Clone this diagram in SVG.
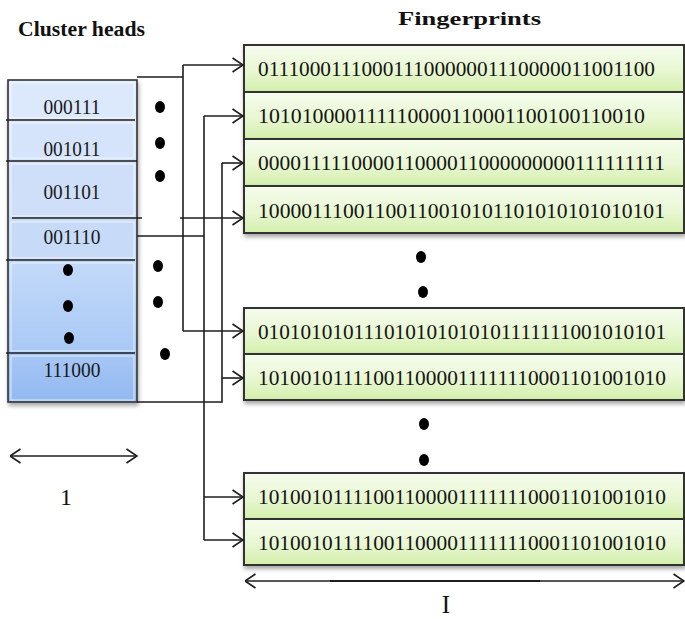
<svg xmlns="http://www.w3.org/2000/svg" width="685" height="619" viewBox="0 0 685 619">
  <style>
    .hdr { font-family: "Liberation Serif", "Times New Roman", serif; font-weight: bold; fill: #111; }
    .bits { font-family: "Liberation Serif", "Times New Roman", serif; font-size: 21px; fill: #151515; }
    .cell { font-family: "Liberation Serif", "Times New Roman", serif; font-size: 20px; fill: #1a1a1a; text-anchor: middle; }
    .lbl { font-family: "Liberation Serif", "Times New Roman", serif; fill: #111; text-anchor: middle; }
    .fp { fill: url(#greenFill); stroke: #333; stroke-width: 2; }
    .ch { stroke: #fff; stroke-opacity: 0.7; stroke-width: 1; }
    .wire { fill: none; stroke: #1e1e1e; stroke-width: 1.6; }
    .arrow { fill: none; stroke: #1e1e1e; stroke-width: 1.6; marker-end: url(#chev); }
    .dim { fill: none; stroke: #1e1e1e; stroke-width: 1.6; marker-start: url(#chev); marker-end: url(#chev); }
    .dot { fill: #000; }
  </style>
  <defs>
    <linearGradient id="greenFill" x1="0" y1="0" x2="0" y2="1">
      <stop offset="0" stop-color="#f6fcee"/>
      <stop offset="0.55" stop-color="#e8f7d2"/>
      <stop offset="1" stop-color="#d3efab"/>
    </linearGradient>
    <linearGradient id="blueCol" x1="0" y1="0" x2="0" y2="1">
      <stop offset="0" stop-color="#e1ecfc"/>
      <stop offset="0.5" stop-color="#c6dbf9"/>
      <stop offset="1" stop-color="#95bbf2"/>
    </linearGradient>
    <linearGradient id="blueLow" x1="0" y1="0" x2="0" y2="1">
      <stop offset="0" stop-color="#c3d9f9"/>
      <stop offset="1" stop-color="#a9c9f5"/>
    </linearGradient>
    <linearGradient id="blueEnd" x1="0" y1="0" x2="0" y2="1">
      <stop offset="0" stop-color="#a6c6f5"/>
      <stop offset="1" stop-color="#93b9f1"/>
    </linearGradient>
    <filter id="shadow" x="-5%" y="-10%" width="110%" height="130%">
      <feDropShadow dx="1" dy="3" stdDeviation="2" flood-color="#000" flood-opacity="0.35"/>
    </filter>
    <marker id="chev" viewBox="0 0 12 16" refX="11.5" refY="8" markerWidth="12" markerHeight="16" markerUnits="userSpaceOnUse" orient="auto-start-reverse">
      <path d="M1,1 L11.5,8 L1,15" fill="none" stroke="#1e1e1e" stroke-width="1.6"/>
    </marker>
  </defs>

  <rect width="685" height="619" fill="#fff"/>

  <!-- headings -->
  <text class="hdr" x="18" y="36" font-size="21" textLength="127" lengthAdjust="spacingAndGlyphs">Cluster heads</text>
  <text class="hdr" x="398" y="25" font-size="19" textLength="143" lengthAdjust="spacingAndGlyphs">Fingerprints</text>

  <!-- cluster head column -->
  <g id="cluster-heads">
    <rect x="8" y="80" width="129" height="322" fill="url(#blueCol)" stroke="#333" stroke-width="1.6" filter="url(#shadow)"/>
    <rect class="ch" x="11" y="83" width="123" height="35" fill="#dce8fb"/>
    <rect class="ch" x="11" y="123" width="123" height="35" fill="#d6e4fb"/>
    <rect class="ch" x="11" y="164" width="123" height="52" fill="#cfdffa"/>
    <rect class="ch" x="11" y="222" width="123" height="36" fill="#c7dbf9"/>
    <rect class="ch" x="11" y="263" width="123" height="88" fill="url(#blueLow)"/>
    <rect class="ch" x="11" y="356" width="123" height="44" fill="url(#blueEnd)"/>
    <g class="wire">
      <line x1="6" y1="120" x2="135" y2="120"/>
      <line x1="6" y1="161" x2="137" y2="161"/>
      <line x1="12" y1="218" x2="142" y2="218"/>
      <line x1="6" y1="260" x2="135" y2="260"/>
      <line x1="6" y1="353" x2="135" y2="353"/>
    </g>
    <text class="cell" x="72" y="114" textLength="57" lengthAdjust="spacingAndGlyphs">000111</text>
    <text class="cell" x="72" y="156" textLength="57" lengthAdjust="spacingAndGlyphs">001011</text>
    <text class="cell" x="72" y="199" textLength="57" lengthAdjust="spacingAndGlyphs">001101</text>
    <text class="cell" x="72" y="244" textLength="57" lengthAdjust="spacingAndGlyphs">001110</text>
    <ellipse class="dot" cx="68" cy="270" rx="5" ry="6"/>
    <ellipse class="dot" cx="68" cy="306" rx="5" ry="6"/>
    <ellipse class="dot" cx="69" cy="338" rx="5" ry="6"/>
    <text class="cell" x="72" y="377" textLength="57" lengthAdjust="spacingAndGlyphs">111000</text>
  </g>

  <!-- fingerprint rows -->
  <g id="fp1"><rect class="fp" x="244" y="45" width="440" height="47" filter="url(#shadow)"/>
    <text class="bits" x="258" y="76" textLength="397" lengthAdjust="spacingAndGlyphs">01110001110001110000001110000011001100</text></g>
  <g id="fp2"><rect class="fp" x="244" y="92" width="440" height="47" filter="url(#shadow)"/>
    <text class="bits" x="258" y="123" textLength="387" lengthAdjust="spacingAndGlyphs">101010000111110000110001100100110010</text></g>
  <g id="fp3"><rect class="fp" x="244" y="139" width="440" height="47" filter="url(#shadow)"/>
    <text class="bits" x="258" y="170" textLength="407" lengthAdjust="spacingAndGlyphs">000011111000011000011000000000111111111</text></g>
  <g id="fp4"><rect class="fp" x="244" y="186" width="440" height="47" filter="url(#shadow)"/>
    <text class="bits" x="258" y="218" textLength="407" lengthAdjust="spacingAndGlyphs">10000111001100110010101101010101010101</text></g>
  <g id="fp5"><rect class="fp" x="244" y="308" width="440" height="46" filter="url(#shadow)"/>
    <text class="bits" x="258" y="339" textLength="408" lengthAdjust="spacingAndGlyphs">010101010111010101010101111111001010101</text></g>
  <g id="fp6"><rect class="fp" x="244" y="354" width="440" height="46" filter="url(#shadow)"/>
    <text class="bits" x="258" y="385" textLength="408" lengthAdjust="spacingAndGlyphs">101001011110011000011111110001101001010</text></g>
  <g id="fp7"><rect class="fp" x="244" y="473" width="440" height="46" filter="url(#shadow)"/>
    <text class="bits" x="258" y="504" textLength="408" lengthAdjust="spacingAndGlyphs">101001011110011000011111110001101001010</text></g>
  <g id="fp8"><rect class="fp" x="244" y="519" width="440" height="46" filter="url(#shadow)"/>
    <text class="bits" x="258" y="550" textLength="408" lengthAdjust="spacingAndGlyphs">101001011110011000011111110001101001010</text></g>

  <!-- ellipsis marks -->
  <g id="ellipses">
    <ellipse class="dot" cx="160" cy="107" rx="5" ry="6"/>
    <ellipse class="dot" cx="160" cy="143" rx="5" ry="6"/>
    <ellipse class="dot" cx="160" cy="176" rx="5" ry="6"/>
    <ellipse class="dot" cx="158" cy="266" rx="5" ry="6"/>
    <ellipse class="dot" cx="158" cy="302" rx="5" ry="6"/>
    <ellipse class="dot" cx="165" cy="354" rx="5" ry="6"/>
    <ellipse class="dot" cx="421" cy="257" rx="5" ry="6"/>
    <ellipse class="dot" cx="423" cy="292" rx="5" ry="6"/>
    <ellipse class="dot" cx="424" cy="424" rx="5" ry="6"/>
    <ellipse class="dot" cx="424" cy="460" rx="5" ry="6"/>
  </g>

  <!-- connectors -->
  <g id="connectors">
    <path class="wire" d="M137,77 H183 M183,65 V331"/>
    <path class="arrow" d="M183,65 H243"/>
    <path class="arrow" d="M183,331 H243"/>

    <path class="wire" d="M137,236 H204 M204,116 V540"/>
    <path class="arrow" d="M204,116 H243"/>
    <path class="arrow" d="M204,497 H243"/>
    <path class="arrow" d="M204,540 H243"/>

    <path class="wire" d="M137,402 H222 V163"/>
    <path class="arrow" d="M222,163 H243"/>
    <path class="arrow" d="M222,378 H243"/>

    <path class="arrow" d="M180,218 H243"/>
  </g>

  <!-- dimension markers -->
  <g id="dimensions">
    <path class="dim" d="M10,456 H137"/>
    <text class="lbl" x="66" y="505" font-size="24">1</text>
    <path class="dim" d="M245,581 H684"/>
    <line x1="330" y1="581" x2="540" y2="581" stroke="#1e1e1e" stroke-width="2"/>
    <text class="lbl" x="446" y="613" font-size="25">I</text>
  </g>
</svg>
